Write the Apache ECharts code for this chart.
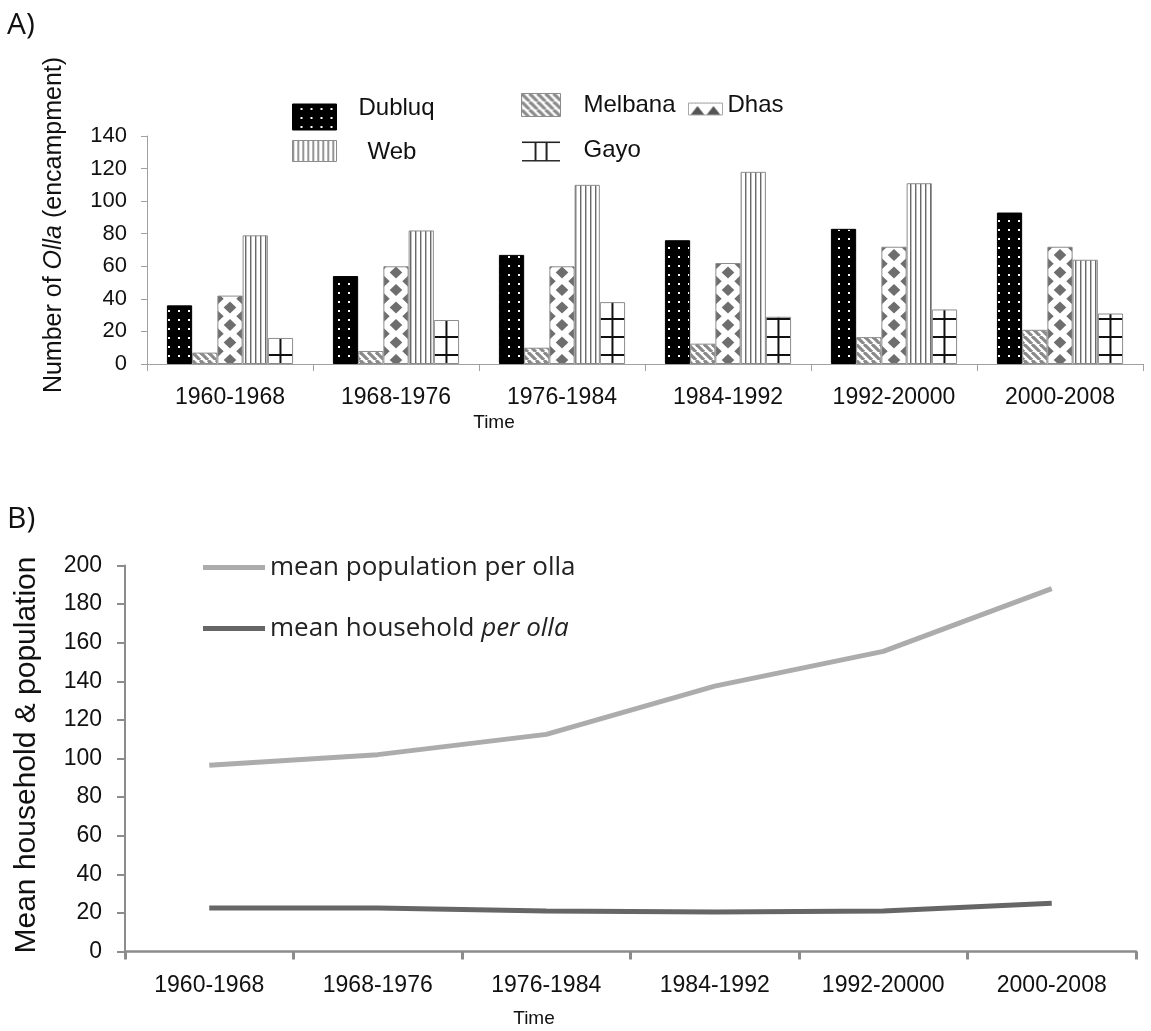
<!DOCTYPE html>
<html><head><meta charset="utf-8">
<script src="https://cdn.jsdelivr.net/npm/echarts@6/dist/echarts.min.js"></script>
<style>html,body{margin:0;padding:0;background:#fff}#chart{width:1151px;height:1031px}</style>
</head><body><div id="chart"></div>
<script>
// ---------------- data ----------------
const categories = ['1960-1968', '1968-1976', '1976-1984', '1984-1992', '1992-20000', '2000-2008'];
const dubluq = [36, 54, 67, 76, 83, 93];
const melbana = [7, 8, 10, 12.5, 16.5, 21];
const dhas = [42, 60, 60, 62, 72, 72];
const web = [79, 82, 110, 118, 111, 64];
const gayo = [16, 27, 38, 29, 33.5, 31];
const popPerOlla = [96.5, 102, 112.5, 137.5, 155.5, 188];
const householdPerOlla = [22.5, 22.5, 21, 20.5, 21, 25];
const axisA = { min: 0, max: 140, interval: 20 };
const axisB = { min: 0, max: 200, interval: 20 };

// ---------------- style helpers ----------------
const SANS = '"Liberation Sans", Arial, sans-serif';
const CAL = '"Open Sans", "Noto Sans", sans-serif';
const W = 1151, H = 1031;
const GA = { left: 147, right: 8, top: 136, bottom: 667 };
const GB = { left: 125, right: 15, top: 565.5, bottom: 79.5 };
const CAT_GAP = 0.24;
const catW = (W - GA.left - GA.right) / categories.length;
const barW = catW * (1 - CAT_GAP) / 5;
const barStart = GA.left + catW * CAT_GAP / 2;
function barCenterMod(k) { const c = barStart + barW * (k + 0.5); return ((c % catW) + catW) % catW; }

function pattern(w, h, draw) {
  const c = document.createElement('canvas'); c.width = w; c.height = h;
  const g = c.getContext('2d'); draw(g, w, h);
  return { image: c, repeat: 'repeat' };
}
function diamond(g, x, y, rx, ry) {
  g.beginPath(); g.moveTo(x, y - ry); g.lineTo(x + rx, y); g.lineTo(x, y + ry); g.lineTo(x - rx, y); g.closePath(); g.fill();
}

const dubluqFill = pattern(10, 9, g => { g.fillStyle = '#000'; g.fillRect(0, 0, 10, 9); g.fillStyle = '#fff'; g.fillRect(8, 4, 2, 2); });
const melbanaFill = pattern(8, 8, g => {
  g.fillStyle = '#fff'; g.fillRect(0, 0, 8, 8);
  g.strokeStyle = '#8a8a8a'; g.lineWidth = 3.2;
  for (const x0 of [-8, 0, 8]) { g.beginPath(); g.moveTo(x0, 0); g.lineTo(x0 + 8, 8); g.stroke(); }
});
const cw = Math.round(catW);
const dhasFill = pattern(cw, 35, g => {
  g.fillStyle = '#fff'; g.fillRect(0, 0, cw, 35);
  g.fillStyle = '#6e6e6e';
  const cx = barCenterMod(2);
  const pts = [[cx, 10], [cx, 27.5], [cx - barW / 2, 1.25], [cx + barW / 2, 1.25], [cx - barW / 2, 18.75], [cx + barW / 2, 18.75]];
  for (const [x, y] of pts) for (const dy of [-35, 0, 35]) diamond(g, x, y + dy, 6.3, 6);
});
const webFill = pattern(5, 5, g => { g.fillStyle = '#fff'; g.fillRect(0, 0, 5, 5); g.fillStyle = '#6a6a6a'; g.fillRect(0, 0, 1, 5); g.fillStyle = '#c0c0c0'; g.fillRect(1, 0, 1, 5); });
const gayoFill = pattern(cw, 18, g => {
  g.fillStyle = '#fff'; g.fillRect(0, 0, cw, 18);
  g.fillStyle = '#111'; g.fillRect(0, 12, cw, 2);
  const cx = barCenterMod(4); g.fillRect(cx - 1, 0, 2, 18);
});
// legend swatches (pattern origin = swatch top-left)
const gayoLegendFill = pattern(39, 21, g => {
  g.fillStyle = '#fff'; g.fillRect(0, 0, 39, 21);
  g.fillStyle = '#222'; g.fillRect(0, 0, 39, 2); g.fillRect(0, 19, 39, 2);
  g.fillRect(13, 0, 2, 21); g.fillRect(24, 0, 2, 21);
});
const dhasLegendFill = pattern(34, 12, g => {
  g.fillStyle = '#fff'; g.fillRect(0, 0, 34, 12);
  g.fillStyle = '#bbb'; for (let x = 0; x < 34; x += 3) g.fillRect(x, 0, 1, 1);
  g.fillStyle = '#555';
  for (const cx of [9, 25]) { g.beginPath(); g.moveTo(cx - 7, 12); g.lineTo(cx, 3); g.lineTo(cx + 7, 12); g.closePath(); g.fill(); }
});

const BORDER = '#8c8c8c';
function legendA(name, left, top, w, h, pad, color, border) {
  return {
    data: [{ name, icon: 'rect', itemStyle: { color, borderColor: border || BORDER, borderWidth: 1 } }],
    left, top, itemWidth: w, itemHeight: h, padding: 0, selectedMode: false,
    formatter: '{t|{name}}',
    textStyle: { fontFamily: SANS, fontSize: 24, color: '#111',
      rich: { t: { fontFamily: SANS, fontSize: 24, color: '#111', padding: pad } } }
  };
}

function barSeries(name, data, color, border) {
  return {
    name, type: 'bar', xAxisIndex: 0, yAxisIndex: 0, data,
    barGap: '0%', barCategoryGap: (CAT_GAP * 100) + '%',
    itemStyle: { color, borderColor: border || BORDER, borderWidth: 1 }
  };
}

const option = {
  animation: false,
  backgroundColor: '#fff',
  grid: [
    Object.assign({ containLabel: false, outerBoundsMode: 'none' }, GA),
    Object.assign({ containLabel: false, outerBoundsMode: 'none' }, GB)
  ],
  legend: [
    legendA('Dubluq', 292, 96, 44, 26, [0, 0, 18, 17], dubluqFill, '#000'),
    legendA('Web', 292, 140, 44, 21, [3, 0, 0, 26], webFill),
    legendA('Melbana', 521, 93, 39, 23, [0, 0, 0, 18], melbanaFill),
    legendA('Dhas', 688, 93, 34, 12, [0, 0, 8, 0], dhasLegendFill, '#aaa'),
    legendA('Gayo', 521, 138, 39, 21, [0, 0, 3, 18], gayoLegendFill, '#fff'),
    { data: [{ name: 'mean population per olla', icon: 'rect' }], left: 203, top: 554.5, itemWidth: 62, itemHeight: 5, padding: 0, selectedMode: false,
      textStyle: { fontFamily: CAL, fontSize: 26, color: '#222' } },
    { data: [{ name: 'mean household per olla', icon: 'rect' }], left: 203, top: 615.5, itemWidth: 62, itemHeight: 5, padding: 0, selectedMode: false,
      formatter: () => '{n|mean household }{i|per olla}',
      textStyle: { fontFamily: CAL, fontSize: 26, color: '#222',
        rich: { n: { fontFamily: CAL, fontSize: 26, color: '#222' }, i: { fontFamily: CAL, fontSize: 26, color: '#222', fontStyle: 'italic' } } } }
  ],
  xAxis: [
    { gridIndex: 0, type: 'category', data: categories,
      axisLine: { show: true, lineStyle: { color: '#a0a0a0', width: 1 } },
      axisTick: { show: true, length: 7, lineStyle: { color: '#a0a0a0', width: 1 } },
      axisLabel: { interval: 0, fontFamily: SANS, fontSize: 23, color: '#111', margin: 22 },
      splitLine: { show: false } },
    { gridIndex: 1, type: 'category', data: categories,
      axisLine: { show: true, lineStyle: { color: '#8c8c8c', width: 2.5 } },
      axisTick: { show: true, length: 8, lineStyle: { color: '#8c8c8c', width: 3 } },
      axisLabel: { interval: 0, fontFamily: SANS, fontSize: 23, color: '#111', margin: 23 },
      splitLine: { show: false } }
  ],
  yAxis: [
    Object.assign({ gridIndex: 0, type: 'value',
      axisLine: { show: true, lineStyle: { color: '#a0a0a0', width: 1 } },
      axisTick: { show: true, length: 6, lineStyle: { color: '#a0a0a0', width: 1 } },
      axisLabel: { fontFamily: SANS, fontSize: 22, color: '#111', margin: 20 },
      splitLine: { show: false } }, axisA),
    Object.assign({ gridIndex: 1, type: 'value',
      axisLine: { show: true, lineStyle: { color: '#8c8c8c', width: 2 } },
      axisTick: { show: true, length: 8, lineStyle: { color: '#8c8c8c', width: 2 } },
      axisLabel: { fontFamily: SANS, fontSize: 23, color: '#111', margin: 23 },
      splitLine: { show: false } }, axisB)
  ],
  series: [
    barSeries('Dubluq', dubluq, dubluqFill, '#000'),
    barSeries('Melbana', melbana, melbanaFill),
    barSeries('Dhas', dhas, dhasFill),
    barSeries('Web', web, webFill),
    barSeries('Gayo', gayo, gayoFill),
    { name: 'mean population per olla', type: 'line', xAxisIndex: 1, yAxisIndex: 1, data: popPerOlla,
      symbol: 'none', showSymbol: false, color: '#acacac', lineStyle: { color: '#acacac', width: 5 } },
    { name: 'mean household per olla', type: 'line', xAxisIndex: 1, yAxisIndex: 1, data: householdPerOlla,
      symbol: 'none', showSymbol: false, color: '#666', lineStyle: { color: '#666', width: 5 } }
  ],
  graphic: [
    { type: 'text', x: 7, y: 25, style: { text: 'A)', fontFamily: CAL, fontSize: 30, fill: '#111', align: 'left', verticalAlign: 'middle' } },
    { type: 'text', x: 7, y: 519, style: { text: 'B)', fontFamily: CAL, fontSize: 30, fill: '#111', align: 'left', verticalAlign: 'middle' } },
    { type: 'text', x: 494, y: 423, style: { text: 'Time', fontFamily: SANS, fontSize: 19, fill: '#111', align: 'center', verticalAlign: 'middle' } },
    { type: 'text', x: 534, y: 1019, style: { text: 'Time', fontFamily: SANS, fontSize: 19, fill: '#111', align: 'center', verticalAlign: 'middle' } },
    { type: 'text', x: 54, y: 225, rotation: Math.PI / 2,
      style: { text: '{a|Number of }{b|Olla}{a| (encampment)}', align: 'center', verticalAlign: 'middle', fontFamily: SANS, fontSize: 25, fill: '#111',
        rich: { a: { fontFamily: SANS, fontSize: 25, fill: '#111' }, b: { fontFamily: SANS, fontSize: 25, fill: '#111', fontStyle: 'italic' } } } },
    { type: 'text', x: 27, y: 755, rotation: Math.PI / 2,
      style: { text: 'Mean household & population', align: 'center', verticalAlign: 'middle', fontFamily: SANS, fontSize: 30, fill: '#111' } }
  ]
};

const chart = echarts.init(document.getElementById('chart'), null, { renderer: 'canvas', width: W, height: H });
chart.setOption(option);
</script>
</body></html>
